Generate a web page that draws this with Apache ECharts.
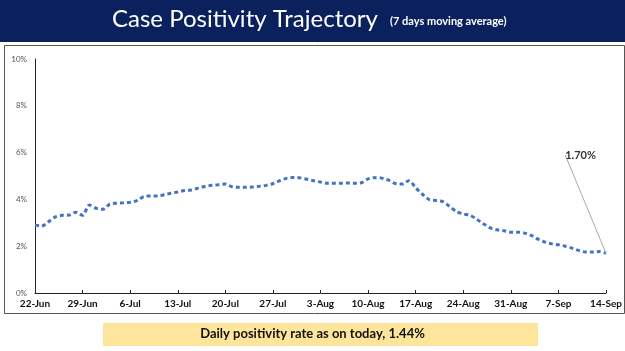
<!DOCTYPE html>
<html>
<head>
<meta charset="utf-8">
<script src="https://cdn.jsdelivr.net/npm/echarts@6/dist/echarts.min.js"></script>
<style>
  html, body { margin: 0; padding: 0; background: #fff; }
  #box { width: 625px; height: 351px; }
</style>
</head>
<body>
<div id="box"></div>
<script>
// 7日移动平均阳性率 (22-Jun .. 14-Sep, 每天一个点)
let startDate = '2020-06-22';
let dayCount = 85;
let positivity = [
  2.90, 2.86, 3.05, 3.25, 3.32, 3.33, 3.45, 3.32, 3.76, 3.62,
  3.58, 3.80, 3.84, 3.86, 3.88, 3.95, 4.12, 4.15, 4.14, 4.20,
  4.26, 4.32, 4.38, 4.40, 4.48, 4.55, 4.60, 4.63, 4.66, 4.54,
  4.52, 4.52, 4.53, 4.56, 4.60, 4.67, 4.80, 4.90, 4.94, 4.92,
  4.86, 4.80, 4.74, 4.69, 4.69, 4.69, 4.70, 4.69, 4.71, 4.88,
  4.93, 4.91, 4.82, 4.68, 4.66, 4.80, 4.50, 4.22, 3.99, 3.95,
  3.90, 3.70, 3.48, 3.38, 3.32, 3.15, 2.95, 2.78, 2.70, 2.66,
  2.60, 2.60, 2.56, 2.46, 2.30, 2.18, 2.10, 2.06, 2.00, 1.92,
  1.82, 1.75, 1.75, 1.77, 1.70
];
let yTicks = [0, 2, 4, 6, 8, 10];
let titleMain = 'Case Positivity Trajectory';
let titleSub = '(7 days moving average)';
let footerText = 'Daily positivity rate as on today, 1.44%';

// 日期标签
let months = ['Jan','Feb','Mar','Apr','May','Jun','Jul','Aug','Sep','Oct','Nov','Dec'];
let dates = [];
let d0 = new Date(startDate + 'T00:00:00Z');
for (let i = 0; i < dayCount; i++) {
  let d = new Date(d0.getTime() + i * 86400000);
  dates.push(d.getUTCDate() + '-' + months[d.getUTCMonth()]);
}

let lastIdx = positivity.length - 1;
let lineData = positivity.map(function (v, i) {
  if (i !== lastIdx) return v;
  return {
    value: v,
    label: {
      show: true,
      color: '#333', fontFamily: 'Lato', fontWeight: 'bold', fontSize: 11,
      formatter: function (p) { return p.value.toFixed(2) + '%'; }
    },
    labelLine: { show: true }
  };
});

let chart = echarts.init(document.getElementById('box'));

let option = {
  backgroundColor: '#fff',
  animation: false,
  graphic: [
    // 顶部标题条
    { type: 'rect', left: 0, top: 0, shape: { width: 625, height: 42 },
      style: { fill: '#0b215e' }, z: 0 },
    { type: 'rect', left: 2, top: 43, shape: { width: 620, height: 268 },
      style: { fill: 'none', stroke: '#555', lineWidth: 1 }, z: 0 },
    { type: 'text', left: 112, top: 7,
      style: { text: titleMain, fill: '#fff', font: '24px Lato' }, z: 10 },
    { type: 'text', left: 390, top: 16,
      style: { text: titleSub, fill: '#fff', font: 'bold 11px Lato' }, z: 10 },
    // 底部黄色说明框
    { type: 'rect', left: 103, top: 323, shape: { width: 435, height: 23 },
      style: { fill: '#fde69c' }, z: 0 },
    { type: 'text', left: 'center', top: 327,
      style: { text: footerText, fill: '#111', font: 'bold 13px Lato' }, z: 10 }
  ],
  grid: { left: 35, right: 19, top: 59, bottom: 58 },
  xAxis: {
    type: 'category',
    data: dates,
    boundaryGap: false,
    axisLine: { lineStyle: { color: '#222', width: 1 } },
    axisTick: { inside: true, length: 3, interval: 6, lineStyle: { color: '#222' } },
    axisLabel: {
      interval: 6, color: '#111', fontFamily: 'Lato', fontWeight: 'bold',
      fontSize: 10, margin: 6
    }
  },
  yAxis: {
    type: 'value',
    min: yTicks[0],
    max: yTicks[yTicks.length - 1],
    interval: 2,
    axisLine: { show: true, lineStyle: { color: '#222', width: 1 } },
    axisTick: { show: false },
    splitLine: { show: false },
    axisLabel: { formatter: '{value}%', color: '#555', fontFamily: 'Lato', fontSize: 8, margin: 8 }
  },
  series: [{
    type: 'line',
    data: lineData,
    smooth: 0.3,
    symbol: 'circle',
    symbolSize: 0,
    showSymbol: true,
    showAllSymbol: true,
    itemStyle: { color: '#4472c4' },
    lineStyle: { color: '#4472c4', width: 3, type: [4, 3] },
    labelLine: { lineStyle: { color: '#aaa', width: 1 }, length2: 3 },
    labelLayout: { x: 596, y: 155, align: 'right', verticalAlign: 'middle' }
  }]
};

chart.setOption(option);
</script>
</body>
</html>
